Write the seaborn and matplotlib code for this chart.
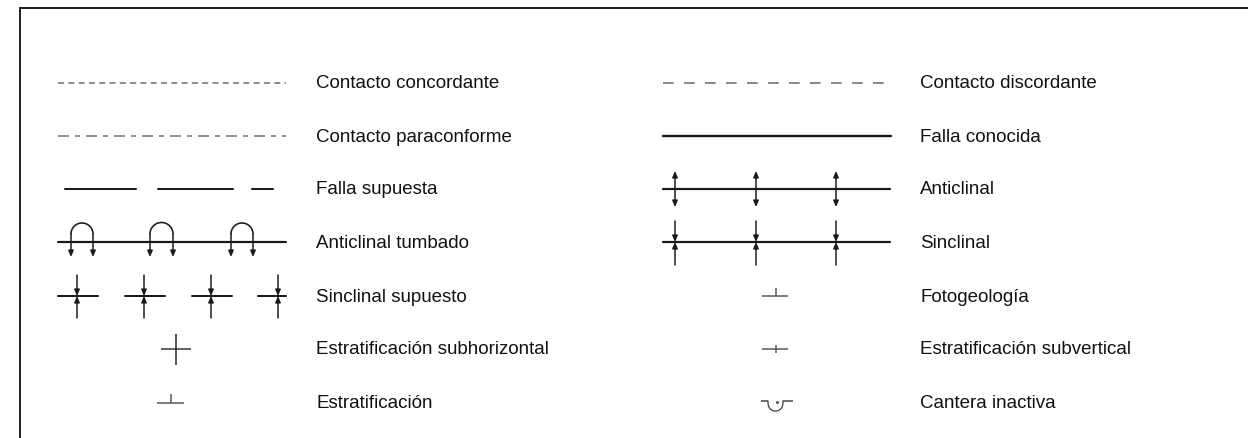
import numpy as np
import matplotlib.pyplot as plt
import seaborn as sns

# legend entries (left column, right column)
left_labels = ["Contacto concordante", "Contacto paraconforme", "Falla supuesta",
               "Anticlinal tumbado", "Sinclinal supuesto",
               "Estratificación subhorizontal", "Estratificación"]
right_labels = ["Contacto discordante", "Falla conocida", "Anticlinal", "Sinclinal",
                "Fotogeología", "Estratificación subvertical", "Cantera inactiva"]
left_symbols = ["concordante", "paraconforme", "falla_supuesta", "anticlinal_tumbado",
                "sinclinal_supuesto", "subhorizontal", "estratificacion"]
right_symbols = ["discordante", "falla_conocida", "anticlinal", "sinclinal",
                 "fotogeologia", "subvertical", "cantera"]

# layout in pixels
W, H = 1248, 438
row_y = [83, 136, 189, 242, 296, 349, 402]
LX0, LX1, LTXT = 58, 286, 316
RX0, RX1, RTXT = 663, 890, 920
GRAY = "#8a8a8a"
BLACK = "#1a1a1a"

sns.set_theme(style="white")
plt.rcParams["font.family"] = ["Liberation Sans", "DejaVu Sans"]
plt.rcParams["lines.scale_dashes"] = False
PT = 0.72  # points per pixel at dpi 100

fig = plt.figure(figsize=(W / 100, H / 100), dpi=100)
ax = fig.add_axes([0, 0, 1, 1])
ax.set_xlim(0, W)
ax.set_ylim(H, 0)
ax.axis("off")


def hline(x0, x1, y, color=BLACK, lw=2.0, ls="-"):
    sns.lineplot(x=[x0, x1], y=[y, y], ax=ax, color=color, lw=lw * PT,
                 linestyle=ls, sort=False, estimator=None, legend=False)


def seg(x0, y0, x1, y1, color=BLACK, lw=1.5):
    ax.plot([x0, x1], [y0, y1], color=color, lw=lw * PT, solid_capstyle="butt")


def arrow(tail, tip, color=BLACK):
    ax.annotate("", xy=tip, xytext=tail,
                arrowprops=dict(arrowstyle="-|>,head_length=0.3,head_width=0.13",
                                color=color, lw=1.5 * PT, shrinkA=0, shrinkB=0))


def draw(kind, x0, x1, y):
    if kind == "concordante":
        hline(x0, x1, y, GRAY, 1.9, (0, (6 * PT, 4.3 * PT)))
    elif kind == "paraconforme":
        hline(x0, x1, y, GRAY, 1.9, (0, (11 * PT, 6 * PT, 5 * PT, 6 * PT)))
    elif kind == "falla_supuesta":
        for a, b in [(65, 136), (158, 233), (252, 273)]:
            hline(a, b, y, BLACK, 2.0)
    elif kind == "anticlinal_tumbado":
        hline(x0, x1, y, BLACK, 2.2)
        for xa, xb in [(71, 93), (150, 173), (231, 253)]:
            cx, r = (xa + xb) / 2, (xb - xa) / 2
            cy = y - 8
            t = np.linspace(np.pi, 2 * np.pi, 40)
            ax.plot(cx + r * np.cos(t), cy + r * np.sin(t), color=BLACK, lw=1.6 * PT)
            for xl in (xa, xb):
                arrow((xl, cy), (xl, y + 15))
    elif kind == "sinclinal_supuesto":
        for xa, xb, xc in [(58, 98, 77), (125, 165, 144), (192, 232, 211), (258, 286, 278)]:
            hline(xa, xb, y, BLACK, 2.0)
            arrow((xc, y - 21), (xc, y))
            arrow((xc, y + 22), (xc, y))
    elif kind == "subhorizontal":
        cx = 176
        seg(cx - 15, y, cx + 15, y, "#333333")
        seg(cx, y - 15, cx, y + 16, "#222222")
    elif kind == "estratificacion":
        cx = 171
        seg(cx - 14, y + 1, cx + 13, y + 1, "#555555")
        seg(cx, y - 8, cx, y + 1, "#555555")
    elif kind == "discordante":
        hline(x0, x1, y, GRAY, 2.0, (0, (10.7 * PT, 10.3 * PT)))
    elif kind == "falla_conocida":
        hline(x0, x1 + 1, y, BLACK, 2.4)
    elif kind == "anticlinal":
        hline(x0, x1, y, BLACK, 2.2)
        for xc in (675, 756, 836):
            ax.annotate("", xy=(xc, y - 18), xytext=(xc, y + 18),
                        arrowprops=dict(arrowstyle="<|-|>,head_length=0.3,head_width=0.13",
                                        color=BLACK, lw=1.5 * PT, shrinkA=0, shrinkB=0))
    elif kind == "sinclinal":
        hline(x0, x1, y, BLACK, 2.2)
        for xc in (675, 756, 836):
            arrow((xc, y - 21), (xc, y))
            arrow((xc, y + 23), (xc, y))
    elif kind == "fotogeologia":
        cx = 776
        seg(cx - 14, y, cx + 12, y, "#555555")
        seg(cx, y - 8, cx, y, "#555555")
    elif kind == "subvertical":
        cx = 776
        seg(cx - 14, y, cx + 12, y, "#555555")
        seg(cx, y - 4, cx, y + 4, "#555555")
    elif kind == "cantera":
        seg(761, y - 1, 768, y - 1, "#444444")
        t = np.linspace(np.pi, 0, 30)
        ax.plot(775.5 + 7.5 * np.cos(t), y - 1 + 10 * np.sin(t) ** 0.7,
                color="#444444", lw=1.3 * PT)
        seg(783, y - 1, 793, y - 1, "#444444")
        ax.plot([777], [y], marker="o", ms=1.2, color="#555555")


for lab, sym, y in zip(left_labels, left_symbols, row_y):
    draw(sym, LX0, LX1, y)
    ax.text(LTXT, y + 1, lab, fontsize=13.5, color="#111111", va="center", ha="left")

for lab, sym, y in zip(right_labels, right_symbols, row_y):
    draw(sym, RX0, RX1, y)
    ax.text(RTXT, y + 1, lab, fontsize=13.5, color="#111111", va="center", ha="left")

# frame (top and left edges only visible)
ax.plot([20, 20, W + 5], [H + 5, 8, 8], color="#222222", lw=2.0 * PT,
        solid_joinstyle="miter")

fig.savefig("out.png", dpi=100)
